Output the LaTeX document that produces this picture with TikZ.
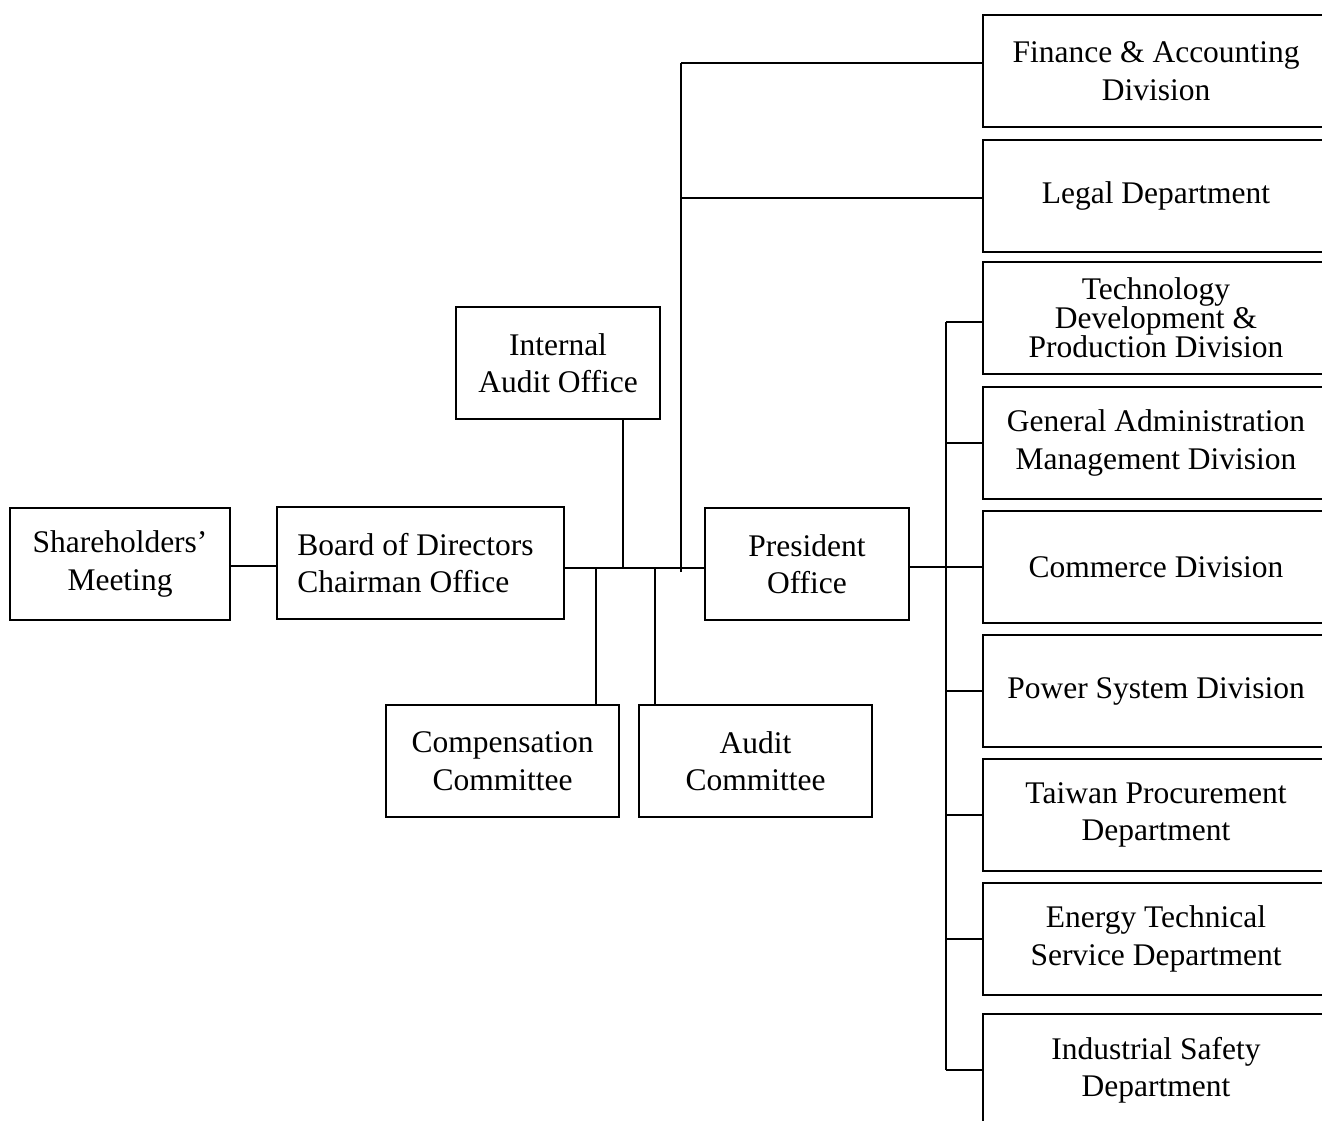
\documentclass[tikz,border=0pt]{standalone}
\usepackage{fontspec}
\setmainfont{Liberation Serif}
\begin{document}
\begin{tikzpicture}[x=1pt,y=-1pt,
  box/.style={draw,line width=1.6pt,rectangle,inner sep=0pt,align=center,
    font=\fontsize{31.5}{37.5}\selectfont},
  rbox/.style={box,minimum width=346pt,minimum height=112pt},
  link/.style={line width=1.6pt}]
\useasboundingbox (0,0) rectangle (1322,1120);
\begin{scope}
\clip (0,0) rectangle (1322,1120);
\fill[white] (0,0) rectangle (1322,1120);
\node[box,minimum width=220pt,minimum height=112pt] (sh) at (120,564) {Shareholders'\\Meeting};
\node[box,minimum width=287pt,minimum height=112pt,align=left] (bd) at (420.5,563) {Board of Directors\hspace*{10pt}\\Chairman Office};
\node[box,minimum width=204pt,minimum height=112pt] (ia) at (558,363) {Internal\\Audit Office};
\node[box,minimum width=233pt,minimum height=112pt] (cc) at (502.5,761) {Compensation\\Committee};
\node[box,minimum width=233pt,minimum height=112pt] (ac) at (755.5,761) {Audit\\Committee};
\node[box,minimum width=204pt,minimum height=112pt] (po) at (807,564) {President\\Office};
\node[rbox] (fin) at (1156,71) {Finance \& Accounting\\Division};
\node[rbox] (leg) at (1156,196) {Legal Department};
\node[rbox,font=\fontsize{31.5}{29}\selectfont] (tec) at (1156,318) {Technology\\Development \&\\Production Division};
\node[rbox] (gen) at (1156,443) {General Administration\\Management Division};
\node[rbox] (com) at (1156,567) {Commerce Division};
\node[rbox] (pow) at (1156,691) {Power System Division};
\node[rbox] (tai) at (1156,815) {Taiwan Procurement\\Department};
\node[rbox] (ene) at (1156,939) {Energy Technical\\Service Department};
\node[rbox] (ind) at (1156,1070) {Industrial Safety\\Department};
\coordinate (ji) at (623,568);
\coordinate (jc) at (596,568);
\coordinate (ja) at (655,568);
\coordinate (jt) at (681,572);
\coordinate (jr) at (946,1070);
\draw[link] ([yshift=-2pt]sh.east) -- ([yshift=-2pt]sh.east -| bd.west);
\draw[link] ([yshift=-5pt]bd.east) -- ([yshift=-4pt]po.west);
\draw[link] (ji |- ia.south) -- (ji);
\draw[link] (jc) -- (jc |- cc.north);
\draw[link] (ja) -- (ja |- ac.north);
\draw[link] (jt) -- (jt |- 0,63);
\draw[link] (jt |- 0,63) -- ([yshift=8pt]fin.west);
\draw[link] (jt |- 0,198) -- ([yshift=-2pt]leg.west);
\draw[link] (po.east |- com.west) -- (com.west);
\draw[link] (jr) -- (jr |- 0,322);
\draw[link] (jr |- 0,322) -- ([yshift=-4pt]tec.west);
\draw[link] (jr |- gen.west) -- (gen.west);
\draw[link] (jr |- pow.west) -- (pow.west);
\draw[link] (jr |- tai.west) -- (tai.west);
\draw[link] (jr |- ene.west) -- (ene.west);
\draw[link] (jr |- ind.west) -- (ind.west);
\end{scope}
\end{tikzpicture}
\end{document}
